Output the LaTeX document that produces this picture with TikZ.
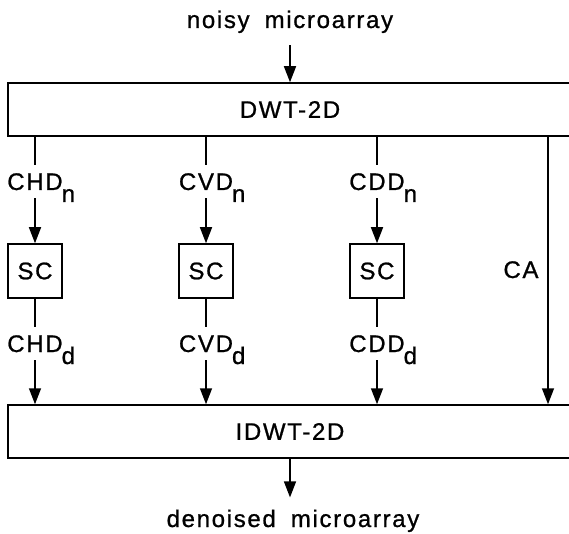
\documentclass[tikz,border=0pt]{standalone}
\usepackage{fontspec}
\setmainfont{Liberation Sans}[LetterSpace=7,WordSpace=1.8,FakeBold=0.9]
\usetikzlibrary{arrows.meta}
\newcommand\subtxt[1]{\rlap{\smash{\raisebox{-12pt}{\kern-1pt#1}}}}
\begin{document}
\begin{tikzpicture}[x=1pt,y=-1pt,
  every node/.style={font=\fontsize{24}{28}\selectfont},
  line/.style={line width=1.5pt},
  arr/.style={line width=1.5pt,-{Triangle[length=16pt,width=12pt]}},
  bigbox/.style={draw,line width=1.5pt,minimum width=564pt,minimum height=53pt,inner sep=0pt},
  scbox/.style={draw,line width=1.5pt,minimum width=54pt,minimum height=54pt,inner sep=0pt},
  lbl/.style={inner xsep=0pt,inner ysep=8pt,anchor=base}]
\useasboundingbox (0,0) rectangle (569,534);
\clip (0,0) rectangle (569,534);
% main blocks
\node[bigbox] (dwt) at (290,109.5) {DWT-2D};
\node[bigbox] (idwt) at (290,431.5) {IDWT-2D};
\node[scbox] (sc1) at (35,271) {SC};
\node[scbox] (sc2) at (206,271) {SC};
\node[scbox] (sc3) at (377,271) {SC};
% input / output
\node[anchor=base,inner xsep=0pt,inner ysep=12pt] (title) at (290,28) {noisy microarray};
\node[anchor=base,inner xsep=0pt,inner ysep=12pt] (out) at (293,527) {denoised microarray};
% labels
\node[lbl] (hn) at (35,190) {CHD\subtxt{n}};
\node[lbl] (vn) at (206,190) {CVD\subtxt{n}};
\node[lbl] (dn) at (377,190) {CDD\subtxt{n}};
\node[lbl] (hd) at (35,352) {CHD\subtxt{d}};
\node[lbl] (vd) at (206,352) {CVD\subtxt{d}};
\node[lbl] (dd) at (377,352) {CDD\subtxt{d}};
\node[anchor=base] (ca) at (521,278) {CA};
\coordinate (cax) at (548,0);
% connectors
\draw[arr] (dwt.north |- title.south) -- (dwt.north);
\foreach \n/\s/\d in {hn/sc1/hd,vn/sc2/vd,dn/sc3/dd}{
  \draw[line] (dwt.south -| \n) -- (\n.north);
  \draw[arr] (\n.south) -- (\s.north);
  \draw[line] (\s.south) -- (\d.north);
  \draw[arr] (\d.south) -- (\d.south |- idwt.north);
}
\draw[arr] (dwt.south -| cax) -- (idwt.north -| cax);
\draw[arr] (idwt.south) -- (idwt.south |- out.north);
\end{tikzpicture}
\end{document}
